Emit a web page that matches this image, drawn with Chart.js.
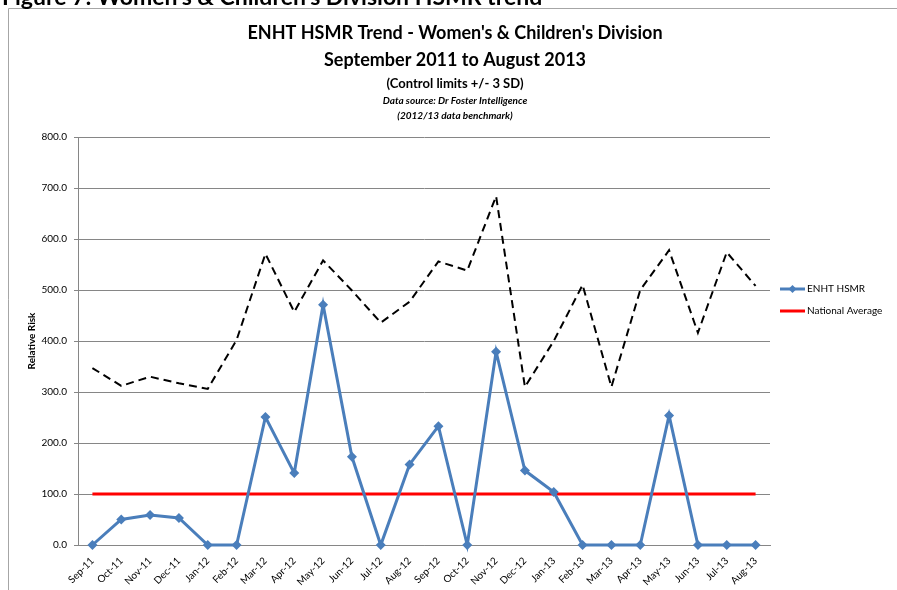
<!DOCTYPE html>
<html>
<head>
<meta charset="utf-8">
<script src="https://cdn.jsdelivr.net/npm/chart.js@4"></script>
<style>
  html, body { margin: 0; padding: 0; background: #fff; }
  #wrap { width: 897px; height: 590px; position: relative; }
</style>
</head>
<body>
<div id="wrap"><canvas id="myChart" width="897" height="590"></canvas></div>
<script>
const months = ['Sep-11','Oct-11','Nov-11','Dec-11','Jan-12','Feb-12','Mar-12','Apr-12','May-12','Jun-12','Jul-12','Aug-12',
                'Sep-12','Oct-12','Nov-12','Dec-12','Jan-13','Feb-13','Mar-13','Apr-13','May-13','Jun-13','Jul-13','Aug-13'];
const hsmr = [0, 50, 59, 53, 0, 0, 251, 141, 471, 173, 0, 158,
              233, 0, 379, 146, 104, 0, 0, 0, 254, 0, 0, 0];
const upperLimit = [347, 312, 330, 317, 306, 402, 571, 457, 558, 499, 436, 477,
                    556, 538, 684, 310, 400, 510, 310, 500, 578, 416, 574, 508];
const nationalAvg = [100, 100, 100, 100, 100, 100, 100, 100, 100, 100, 100, 100,
                     100, 100, 100, 100, 100, 100, 100, 100, 100, 100, 100, 100];
const yMax = 800;
const yStep = 100;

const titleLines = [
    {text: "ENHT HSMR Trend - Women's & Children's Division", font: 'bold 18px Lato', y: 33},
    {text: 'September 2011 to August 2013', font: 'bold 18px Lato', y: 60},
    {text: '(Control limits +/- 3 SD)', font: 'bold 13px Lato', y: 84},
    {text: 'Data source: Dr Foster Intelligence', font: 'italic bold 10px Lato', y: 101},
    {text: '(2012/13 data benchmark)', font: 'italic bold 10px Lato', y: 116}
];

// frame, heading and the titles
const frame = {
    id: 'frame',
    beforeDraw(chart) {
        const c = chart.ctx;
        c.save();
        c.fillStyle = '#fff';
        c.fillRect(0, 0, chart.width, chart.height);
        c.strokeStyle = '#a6a6a6';
        c.lineWidth = 1;
        c.beginPath();
        c.moveTo(8.5, chart.height + 2);
        c.lineTo(8.5, 8.5);
        c.lineTo(chart.width + 2, 8.5);
        c.stroke();
        c.fillStyle = '#000';
        c.textBaseline = 'alphabetic';
        c.textAlign = 'left';
        c.font = 'bold 23px Lato';
        c.fillText("Figure 7: Women's & Children's Division HSMR trend", 2, 5);
        c.textAlign = 'center';
        c.textBaseline = 'middle';
        titleLines.forEach(t => {
            c.font = t.font;
            c.fillText(t.text, 455, t.y);
        });
        c.restore();
    }
};

// legend on the right, only the first two series
const sideLegend = {
    id: 'sideLegend',
    afterDraw(chart) {
        const c = chart.ctx;
        const rows = [0, 1];
        c.save();
        rows.forEach((i, k) => {
            const ds = chart.data.datasets[i];
            const y = 289 + k * 22;
            c.strokeStyle = ds.borderColor;
            c.lineWidth = 3;
            c.beginPath();
            c.moveTo(780, y);
            c.lineTo(805, y);
            c.stroke();
            if (ds.pointRadius > 0) {
                c.fillStyle = ds.borderColor;
                c.beginPath();
                c.moveTo(792.5, y - 4);
                c.lineTo(796.5, y);
                c.lineTo(792.5, y + 4);
                c.lineTo(788.5, y);
                c.closePath();
                c.fill();
            }
            c.fillStyle = '#000';
            c.font = '10px Lato';
            c.textAlign = 'left';
            c.textBaseline = 'middle';
            c.fillText(ds.label, 807, y);
        });
        c.restore();
    }
};

const ctx = document.getElementById('myChart');
let trendChart = new Chart(ctx, {
    type: 'line',
    data: {
        labels: months,
        datasets: [
            {
                label: 'ENHT HSMR',
                data: hsmr,
                borderColor: '#4a7ebb',
                backgroundColor: '#4a7ebb',
                borderWidth: 3,
                pointStyle: 'rectRot',
                pointRadius: 5,
                pointBorderWidth: 0,
                tension: 0,
                clip: false,
                order: 1
            },
            {
                label: 'National Average',
                data: nationalAvg,
                borderColor: '#ff0000',
                borderWidth: 3,
                pointRadius: 0,
                tension: 0,
                order: 2
            },
            {
                label: 'Upper limit',
                data: upperLimit,
                borderColor: '#000000',
                borderWidth: 2,
                borderDash: [8, 5],
                pointRadius: 0,
                tension: 0,
                order: 3
            }
        ]
    },
    options: {
        responsive: false,
        animation: false,
        layout: { padding: { top: 137, right: 127, left: 0, bottom: 0 } },
        plugins: {
            legend: { display: false },
            tooltip: { enabled: false }
        },
        scales: {
            x: {
                offset: true,
                grid: { display: false },
                border: { display: true, color: '#868686' },
                ticks: {
                    minRotation: 45,
                    maxRotation: 45,
                    autoSkip: false,
                    color: '#000',
                    font: { family: 'Lato', size: 10 },
                    padding: 2
                },
                afterFit(scale) { scale.height = 45; }
            },
            y: {
                min: 0,
                max: yMax,
                ticks: {
                    stepSize: yStep,
                    color: '#000',
                    font: { family: 'Lato', size: 10 },
                    padding: 7,
                    callback: v => v.toFixed(1)
                },
                grid: { color: '#868686', tickLength: 4 },
                border: { color: '#868686' },
                title: {
                    display: true,
                    text: 'Relative Risk',
                    color: '#000',
                    font: { family: 'Lato', size: 10, weight: 'bold' },
                    padding: { top: 26, bottom: 0 }
                },
                afterFit(scale) { scale.width = 78; }
            }
        }
    },
    plugins: [frame, sideLegend]
});
</script>
</body>
</html>
